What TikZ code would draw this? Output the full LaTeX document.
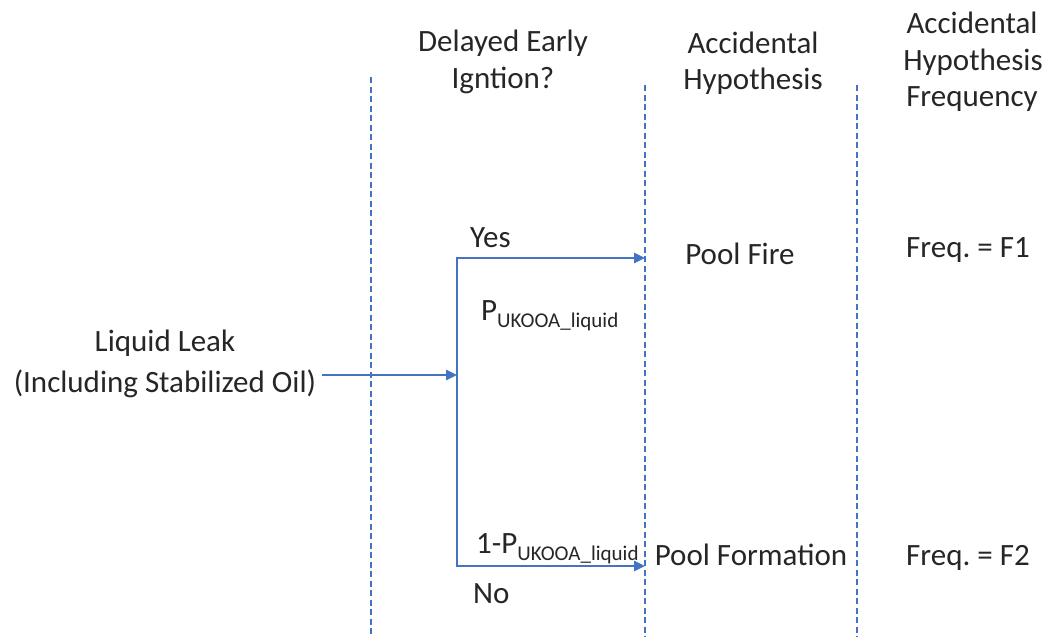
\documentclass[tikz,border=0pt]{standalone}
\usepackage{fontspec}
\setmainfont{Carlito}
\usetikzlibrary{arrows.meta}
\definecolor{flow}{HTML}{4472C4}
\newcommand{\sub}[1]{\raisebox{-0.23em}{\fontsize{21}{21}\selectfont #1}}
\tikzset{
  lbl/.style={anchor=base, inner sep=0pt, font=\fontsize{31}{37}\selectfont, text=black!85},
  lblw/.style={lbl, anchor=base west},
  divider/.style={draw=flow, line width=1.4pt, dash pattern=on 6pt off 3.5pt},
  flowline/.style={draw=flow, line width=2.6pt},
  flowarrow/.style={flowline, -{Triangle[length=11pt,width=10pt]}}
}
\begin{document}
\frenchspacing
\begin{tikzpicture}[x=1pt,y=-1pt]
\useasboundingbox[fill=white] (0,0) rectangle (1051,637);

% column dividers
\coordinate (d1t) at (371,77);  \coordinate (d1b) at (371,637);
\coordinate (d2t) at (645,85);  \coordinate (d2b) at (645,637);
\coordinate (d3t) at (857,85);  \coordinate (d3b) at (857,637);
\draw[divider] (d1t) -- (d1b);
\draw[divider] (d2t) -- (d2b);
\draw[divider] (d3t) -- (d3b);

% column headers
\node[lbl] (h1a) at (503,51) {Delayed Early};
\node[lbl] (h1b) at (503,88) {Igntion?};
\node[lbl] (h2a) at (753,53) {Accidental};
\node[lbl] (h2b) at (753,89) {Hypothesis};
\node[lbl] (h3a) at (972,33) {Accidental};
\node[lbl] (h3b) at (973,70) {Hypothesis};
\node[lbl] (h3c) at (972,106) {Frequency};

% initiating event
\node[lbl] (ev1) at (165,351) {Liquid Leak};
\node[lbl] (ev2) at (165,392) {(Including Stabilized Oil)};

% branch points
\coordinate (src) at (322,375);
\coordinate (split) at (457,375);
\coordinate (ytop) at (457,258);
\coordinate (ybot) at (457,566);
\coordinate (yend) at (645,258);
\coordinate (nend) at (645,566);

\draw[flowarrow] (src) -- (split);
\draw[flowline] (ytop) -- (ybot);
\draw[flowarrow] ([xshift=-1.3pt]ytop) -- (yend);
\draw[flowarrow] ([xshift=-1.3pt]ybot) -- (nend);

% branch labels
\node[lblw] (yes) at (470,247) {Yes};
\node[lblw] (py) at (481,320) {P\sub{UKOOA\_liquid}};
\node[lblw] (pn) at (476,553) {1-P\sub{UKOOA\_liquid}};
\node[lblw] (no) at (473,603) {No};

% outcomes
\node[lbl] (o1) at (740,264) {Pool Fire};
\node[lbl] (o2) at (751,565) {Pool Formation};
\node[lbl] (f1) at (968,257) {Freq. = F1};
\node[lbl] (f2) at (968,565) {Freq. = F2};
\end{tikzpicture}
\end{document}
